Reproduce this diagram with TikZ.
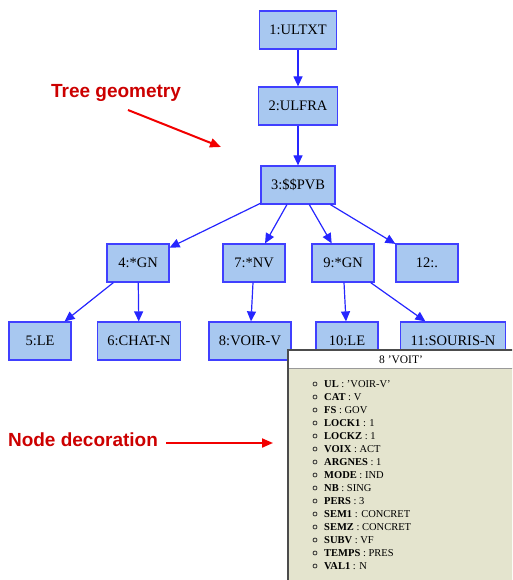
\documentclass[tikz,border=0pt]{standalone}
\usepackage{fontspec}
\setmainfont{Liberation Serif}
\newfontfamily\notefont{Liberation Sans}
\usetikzlibrary{arrows.meta}

\definecolor{nodefill}{RGB}{168,200,240}
\definecolor{panelbg}{RGB}{228,228,206}

\begin{document}
\begin{tikzpicture}[x=1pt,y=-1pt,
  tnode/.style={draw=blue!75!white,fill=nodefill,line width=1.2pt,minimum height=38pt,minimum width=62pt,inner xsep=10pt,font=\fontsize{14.5}{16}\selectfont},
  tedge/.style={blue!85!white,line width=1.2pt,-{Triangle[length=10pt,width=9pt]}},
  note/.style={red!80!black,inner sep=1pt,font=\notefont\bfseries\fontsize{19}{21}\selectfont},
  notearrow/.style={red!95!black,line width=2pt,-{Triangle[length=11pt,width=9pt]}},
  attr/.style={anchor=west,inner sep=0pt,font=\fontsize{10.5}{12}\selectfont}]

\useasboundingbox (0,0) rectangle (512,580);

% tree nodes
\node[tnode] (n1) at (298,30) {1:ULTXT};
\node[tnode] (n2) at (298,106) {2:ULFRA};
\node[tnode] (n3) at (298,185) {3:\$\$PVB};

\node[tnode] (n4) at (138,263) {4:*GN};
\node[tnode] (n7) at (254,263) {7:*NV};
\node[tnode] (n9) at (343,263) {9:*GN};
\node[tnode] (n12) at (427,263) {12:.};

\node[tnode] (n5) at (40,341) {5:LE};
\node[tnode] (n6) at (139,341) {6:CHAT-N};
\node[tnode] (n8) at (250,341) {8:VOIR-V};
\node[tnode] (n10) at (347,341) {10:LE};
\node[tnode] (n11) at (453,341) {11:SOURIS-N};

% tree edges
\draw[tedge] (n1) -- (n2);
\draw[tedge] (n2) -- (n3);
\draw[tedge] (n3) -- (n4);
\draw[tedge] (n3) -- (n7);
\draw[tedge] (n3) -- (n9);
\draw[tedge] (n3) -- (n12);
\draw[tedge] (n4) -- (n5);
\draw[tedge] (n4) -- (n6);
\draw[tedge] (n7) -- (n8);
\draw[tedge] (n9) -- (n10);
\draw[tedge] (n9) -- (n11);

% notes
\node[note] (tg) at (116,93) {Tree geometry};
\coordinate (tgtail) at (128,110);
\coordinate (tgtip) at (221,147);
\draw[notearrow] (tgtail) -- (tgtip);

\node[note] (nd) at (83,440) {Node decoration};
\coordinate (ndtip) at (273,443);
\draw[notearrow] (nd.east |- ndtip) ++(7,0) -- (ndtip);

% decoration panel
\begin{scope}
\clip (0,0) rectangle (512,580);
\draw[fill=panelbg,draw=black!70!white,line width=2pt] (288,350) rectangle (520,590);
\fill[white] (289,351) rectangle (520,368);
\draw[black!40!white,line width=0.8pt] (289,368) -- (520,368);
\node[font=\fontsize{11.5}{12}\selectfont] (title) at (401,360) {8 'VOIT'};

\foreach \key/\val [count=\i from 0] in {UL/'VOIR-V',CAT/V,FS/GOV,LOCK1/1,LOCKZ/1,VOIX/ACT,ARGNES/1,MODE/IND,NB/SING,PERS/3,SEM1/CONCRET,SEMZ/CONCRET,SUBV/VF,TEMPS/PRES,VAL1/N}
{
  \draw[black!80!white,line width=0.8pt] (315,{384+13*\i}) circle (2pt);
  \node[attr] at (324,{384+13*\i}) {\textbf{\key} : \val};
}
\end{scope}

\end{tikzpicture}
\end{document}
